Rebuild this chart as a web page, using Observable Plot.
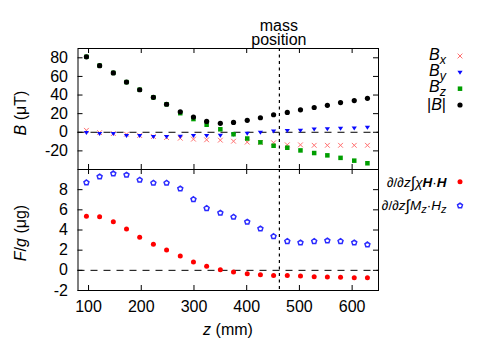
<!DOCTYPE html>
<html><head><meta charset="utf-8">
<script src="https://cdn.jsdelivr.net/npm/d3@7"></script>
<script src="https://cdn.jsdelivr.net/npm/@observablehq/plot@0.6"></script>
<style>
html,body{margin:0;padding:0;background:#fff;}
#wrap{position:relative;width:485px;height:339px;overflow:hidden;font-family:"Liberation Sans",Arial,sans-serif;}
#wrap svg{position:absolute;left:0;}
</style></head><body><div id="wrap"></div>
<script>
// ---- data ----
const z = [96,121,147,172,197,223,248,274,299,324,350,375,401,426,451,477,502,528,553,578,604,629];
const Bx = [2.1,-0.4,-1.4,-2.1,-3.5,-4.6,-5.7,-6.4,-7.4,-8.1,-8.5,-9.6,-10.6,-11.0,-11.3,-13.5,-13.5,-14.0,-14.0,-14.0,-14.0,-14.0];
const By = [-0.7,-1.8,-1.8,-3.9,-3.9,-5.0,-5.0,-4.6,-3.9,-3.9,-3.5,-2.5,-1.5,-0.4,1.0,1.4,1.8,3.2,3.5,3.9,4.2,5.0];
const Bz = [81.1,71.6,63.8,53.9,45.7,37.5,30.1,20.5,14.2,8.1,3.2,-2.1,-6.7,-10.8,-14.5,-16.6,-19.5,-22.3,-24.8,-27.5,-30.5,-33.3];
const Babs = [81.1,71.6,63.8,53.9,45.7,37.5,30.1,22.0,16.3,11.7,9.6,10.6,12.8,15.6,18.8,21.3,24.1,26.6,29.0,31.9,34.0,36.5];
const Fchi = [5.36,5.32,4.83,4.10,3.27,2.58,2.02,1.42,0.83,0.40,0.07,-0.17,-0.33,-0.43,-0.50,-0.50,-0.56,-0.63,-0.66,-0.69,-0.73,-0.73];
const FM = [8.70,9.29,9.59,9.46,8.96,8.66,8.66,8.10,7.04,6.15,5.69,5.29,4.80,4.13,3.37,2.88,2.74,2.88,2.94,2.88,2.74,2.55];
const massPos = 462;
const xTicks = [100,200,300,400,500,600];
const yTicksTop = [-20,0,20,40,60,80];
const yTicksBot = [-2,0,2,4,6,8];
const xDomain = [80,650];
const yDomainTop = [-40,90];
const yDomainBot = [-2,10];

// ---- symbols ----
const triDown = {draw(ctx, size){const r=Math.sqrt(size/Math.PI);ctx.moveTo(0,r*0.85);ctx.lineTo(-r*1.05,-r*0.75);ctx.lineTo(r*1.05,-r*0.75);ctx.closePath();}};
const pentagon = {draw(ctx, size){const r=Math.sqrt(size/Math.PI);for(let k=0;k<5;k++){const a=-Math.PI/2+k*2*Math.PI/5;const px=r*Math.cos(a),py=r*Math.sin(a);k?ctx.lineTo(px,py):ctx.moveTo(px,py);}ctx.closePath();}};

const rows = z.map((v,i)=>({z:v,Bx:Bx[i],By:By[i],Bz:Bz[i],Babs:Babs[i],Fchi:Fchi[i],FM:FM[i]}));

const W = 485, ML = 77.5, MR = 107, PH = 121, PW = W-ML-MR;
const FF = "'Liberation Sans',Arial,sans-serif";
const font = {fontSize:"16px", fontFamily:FF, background:"transparent", overflow:"visible"};

function frameTicks(){
  return [
    Plot.tickX(xTicks,{x:d=>d,insetTop:PH-5,stroke:"black"}),
    Plot.tickX(xTicks,{x:d=>d,insetBottom:PH-5,stroke:"black"}),
  ];
}
function yTickMarks(t){
  return [
    Plot.tickY(t,{y:d=>d,insetRight:PW-5,stroke:"black"}),
    Plot.tickY(t,{y:d=>d,insetLeft:PW-5,stroke:"black"}),
  ];
}

const topPlot = Plot.plot({
  width:W, height:48+PH, marginTop:48, marginBottom:0, marginLeft:ML, marginRight:MR,
  style:font,
  x:{domain:xDomain, axis:null},
  y:{domain:yDomainTop, ticks:yTicksTop, tickSize:0, tickPadding:10, label:null, tickFormat:d=>String(d)},
  marks:[
    Plot.ruleY([0],{stroke:"black",strokeDasharray:"7,6"}),
    Plot.ruleX([massPos],{stroke:"black",strokeDasharray:"3,3.5",strokeWidth:1.2}),
    ...frameTicks(), ...yTickMarks(yTicksTop),
    Plot.dot(rows,{x:"z",y:"Bx",symbol:"times",r:2.3,stroke:"#ff6f6f",strokeWidth:1,fill:"none"}),
    Plot.dot(rows,{x:"z",y:"By",symbol:triDown,r:2.5,fill:"#0a0aff",stroke:"none"}),
    Plot.dot(rows,{x:"z",y:"Bz",symbol:"square",r:2.55,fill:"#009e00",stroke:"none"}),
    Plot.dot(rows,{x:"z",y:"Babs",symbol:"circle",r:2.6,fill:"black",stroke:"none"}),
    Plot.frame({stroke:"black"})
  ]
});
topPlot.style.top = "0px";

const botPlot = Plot.plot({
  width:W, height:339-169, marginTop:0, marginBottom:339-169-PH, marginLeft:ML, marginRight:MR,
  style:font,
  x:{domain:xDomain, ticks:xTicks, tickSize:0, tickPadding:10, label:null, tickFormat:d=>String(d)},
  y:{domain:yDomainBot, ticks:yTicksBot, tickSize:0, tickPadding:10, label:null, tickFormat:d=>String(d)},
  marks:[
    Plot.ruleY([0],{stroke:"black",strokeDasharray:"7,6"}),
    Plot.ruleX([massPos],{stroke:"black",strokeDasharray:"3,3.5",strokeWidth:1.2}),
    ...frameTicks(), ...yTickMarks(yTicksBot),
    Plot.dot(rows,{x:"z",y:"Fchi",symbol:"circle",r:2.5,fill:"#ff0000",stroke:"none"}),
    Plot.dot(rows,{x:"z",y:"FM",symbol:pentagon,r:2.6,fill:"white",stroke:"#2a2aff",strokeWidth:1.5}),
    Plot.frame({stroke:"black"})
  ]
});
botPlot.style.top = "169px";

const wrap = document.getElementById("wrap");
wrap.appendChild(topPlot);
wrap.appendChild(botPlot);

// ---- overlay: titles & legends ----
const sx = topPlot.scale("x");
const ov = d3.select(wrap).append("svg").attr("width",W).attr("height",339)
  .style("top","0px").style("font-family",FF).style("font-size","16px").style("overflow","visible");

const mx = sx.apply(massPos);
const mp = ov.append("text").attr("text-anchor","middle");
mp.append("tspan").attr("x",mx).attr("y",30.5).text("mass");
mp.append("tspan").attr("x",mx).attr("y",44.5).text("position");

// y labels
const yl1 = ov.append("text").attr("transform","translate(26,113) rotate(-90)").attr("text-anchor","middle");
yl1.append("tspan").attr("font-style","italic").text("B");
yl1.append("tspan").text(" (μT)");
const yl2 = ov.append("text").attr("transform","translate(26,233) rotate(-90)").attr("text-anchor","middle");
yl2.append("tspan").attr("font-style","italic").text("F");
yl2.append("tspan").text("/");
yl2.append("tspan").attr("font-style","italic").text("g");
yl2.append("tspan").text(" (μg)");
// x label
const xl = ov.append("text").attr("x",228).attr("y",335).attr("text-anchor","middle");
xl.append("tspan").attr("font-style","italic").text("z");
xl.append("tspan").text(" (mm)");

// top legend
const legTop = [["x",60],["y",76.3],["z",92.4]];
legTop.forEach(([s,yb])=>{
  const t = ov.append("text").attr("x",446).attr("y",yb).attr("text-anchor","end").attr("font-style","italic");
  t.append("tspan").attr("font-size","16px").text("B");
  t.append("tspan").attr("dy",3.5).attr("font-size","12.5px").text(s);
});
const tb = ov.append("text").attr("x",446).attr("y",110).attr("text-anchor","end");
tb.append("tspan").text("|");
tb.append("tspan").attr("font-style","italic").text("B");
tb.append("tspan").text("|");
const lx = 460;
ov.append("path").attr("d",d3.symbol(d3.symbolTimes, Math.PI*2.3*2.3)()).attr("transform",`translate(${lx},56)`).attr("stroke","#ff6f6f").attr("fill","none");
ov.append("path").attr("d",d3.symbol(triDown, Math.PI*2.5*2.5)()).attr("transform",`translate(${lx},72.7)`).attr("fill","#0a0aff");
ov.append("path").attr("d",d3.symbol(d3.symbolSquare, Math.PI*2.55*2.55)()).attr("transform",`translate(${lx},88.7)`).attr("fill","#009e00");
ov.append("circle").attr("cx",lx).attr("cy",105).attr("r",2.6).attr("fill","black");

// bottom legend
const LF = "13.5px";
const b1 = ov.append("text").attr("x",446.5).attr("y",186.5).attr("text-anchor","end").style("font-size",LF);
b1.append("tspan").text("∂/∂");
b1.append("tspan").attr("font-style","italic").text("z");
b1.append("tspan").attr("font-size","16px").attr("dy",1).text("∫");
b1.append("tspan").attr("font-style","italic").attr("dy",-1).text("χ");
b1.append("tspan").attr("font-style","italic").attr("font-weight","bold").text("H");
b1.append("tspan").text("·");
b1.append("tspan").attr("font-style","italic").attr("font-weight","bold").text("H");
const b2 = ov.append("text").attr("x",446.5).attr("y",209.5).attr("text-anchor","end").style("font-size",LF);
b2.append("tspan").text("∂/∂");
b2.append("tspan").attr("font-style","italic").text("z");
b2.append("tspan").attr("font-size","16px").attr("dy",1).text("∫");
b2.append("tspan").attr("font-style","italic").attr("dy",-1).text("M");
b2.append("tspan").attr("font-style","italic").attr("dy",3.5).attr("font-size","11px").text("z");
b2.append("tspan").attr("dy",-3.5).text("·");
b2.append("tspan").attr("font-style","italic").text("H");
b2.append("tspan").attr("font-style","italic").attr("dy",3.5).attr("font-size","11px").text("z");
ov.append("circle").attr("cx",lx).attr("cy",181.7).attr("r",2.5).attr("fill","#ff0000");
ov.append("path").attr("d",d3.symbol(pentagon, Math.PI*2.6*2.6)()).attr("transform",`translate(${lx},205.7)`).attr("fill","white").attr("stroke","#2a2aff").attr("stroke-width",1.5);
</script></body></html>
